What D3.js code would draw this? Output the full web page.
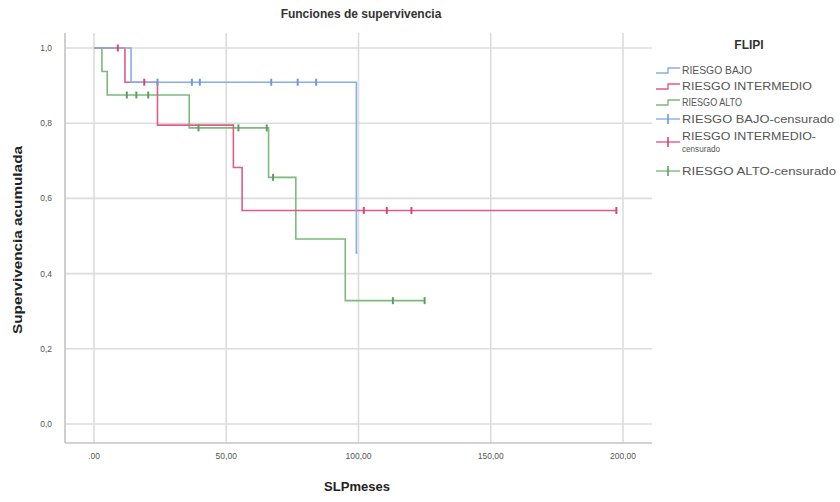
<!DOCTYPE html>
<html><head><meta charset="utf-8">
<script src="https://cdn.jsdelivr.net/npm/d3@7"></script>
<style>body{margin:0;background:#fff}svg{display:block}text{font-family:"Liberation Sans",Arial,sans-serif}</style>
</head><body>
<svg id="c" width="840" height="502"></svg>
<script>
// ---- data ----
const groups = ["RIESGO BAJO", "RIESGO INTERMEDIO", "RIESGO ALTO"];
const legendLabels = ["RIESGO BAJO", "RIESGO INTERMEDIO", "RIESGO ALTO", "RIESGO BAJO-censurado", ["RIESGO INTERMEDIO-", "censurado"], "RIESGO ALTO-censurado"];
const xTicks = [0, 50, 100, 150, 200];
const xTickLabels = [".00", "50,00", "100,00", "150,00", "200,00"];
const yTicks = [0, 0.2, 0.4, 0.6, 0.8, 1.0];
const yTickLabels = ["0,0", "0,2", "0,4", "0,6", "0,8", "1,0"];

const bajoTimes = [0, 14, 99.2];
const bajoSurv  = [1, 0.909, 0.455];
const bajoEnd   = 99.6;
const bajoCensT = [24, 37, 40, 67, 77, 84];
const bajoCensS = [0.909, 0.909, 0.909, 0.909, 0.909, 0.909];

const interTimes = [0, 11.7, 24, 52.7, 56];
const interSurv  = [1, 0.909, 0.795, 0.682, 0.568];
const interEnd   = 197.5;
const interCensT = [9, 19, 102, 110.7, 120, 197.5];
const interCensS = [1, 0.909, 0.568, 0.568, 0.568, 0.568];

const altoTimes = [0, 3, 5, 36, 66, 76.3, 95];
const altoSurv  = [1, 0.9375, 0.875, 0.7875, 0.656, 0.492, 0.328];
const altoEnd   = 125;
const altoCensT = [12.4, 16, 20.5, 39.5, 54.6, 65.3, 67.7, 113, 125];
const altoCensS = [0.875, 0.875, 0.875, 0.7875, 0.7875, 0.7875, 0.656, 0.328, 0.328];

const lineColors = ["#86aee3", "#e05c86", "#7db97c"];
const censColors = ["#6f98d6", "#d8456f", "#5f9f5e"];

// ---- chart ----
const svg = d3.select("#c");
const L = 65, R = 652, T = 33, B = 443;
const x = d3.scaleLinear().domain([0, 200]).range([94, 623]);
const y = d3.scaleLinear().domain([0, 1]).range([424, 48]);

// grid
const g = svg.append("g");
g.selectAll(".hg").data(yTicks).join("line")
  .attr("x1", L).attr("x2", R).attr("y1", d => y(d)).attr("y2", d => y(d))
  .attr("stroke", "#dcdcdc").attr("stroke-width", 1.6);
g.selectAll(".vg").data(xTicks).join("line")
  .attr("y1", T).attr("y2", B).attr("x1", d => x(d)).attr("x2", d => x(d))
  .attr("stroke", "#dcdcdc").attr("stroke-width", 1.6);
// axes lines
svg.append("line").attr("x1", L).attr("x2", L).attr("y1", T).attr("y2", B).attr("stroke", "#c4c4c4").attr("stroke-width", 1.6);
svg.append("line").attr("x1", L).attr("x2", R).attr("y1", B).attr("y2", B).attr("stroke", "#c4c4c4").attr("stroke-width", 1.6);

// tick labels
svg.selectAll(".yl").data(yTicks).join("text")
  .attr("x", 52).attr("y", d => y(d) + 3).attr("text-anchor", "end")
  .attr("font-size", 8.5).attr("fill", "#555").text((d, i) => yTickLabels[i]);
svg.selectAll(".xl").data(xTicks).join("text")
  .attr("x", d => x(d)).attr("y", 459).attr("text-anchor", "middle")
  .attr("font-size", 8.5).attr("fill", "#555").text((d, i) => xTickLabels[i]);

// titles
svg.append("text").attr("x", 361).attr("y", 18).attr("text-anchor", "middle")
  .attr("font-size", 12).attr("font-weight", "bold").attr("fill", "#333").text("Funciones de supervivencia");
svg.append("text").attr("x", 357).attr("y", 491).attr("text-anchor", "middle")
  .attr("font-size", 13).attr("font-weight", "bold").attr("fill", "#222").text("SLPmeses");
svg.append("text").attr("transform", "translate(22,240) rotate(-90)").attr("text-anchor", "middle")
  .attr("font-size", 12.5).attr("font-weight", "bold").attr("fill", "#222")
  .attr("textLength", 188).attr("lengthAdjust", "spacingAndGlyphs").text("Supervivencia acumulada");

// curves
function stepData(times, surv, end) {
  const pts = times.map((t, i) => [t, surv[i]]);
  pts.push([end, surv[surv.length - 1]]);
  return pts;
}
const line = d3.line().x(d => x(d[0])).y(d => y(d[1])).curve(d3.curveStepAfter);
const series = [
  {steps: stepData(bajoTimes, bajoSurv, bajoEnd), ct: bajoCensT, cs: bajoCensS},
  {steps: stepData(interTimes, interSurv, interEnd), ct: interCensT, cs: interCensS},
  {steps: stepData(altoTimes, altoSurv, altoEnd), ct: altoCensT, cs: altoCensS}
];
[2, 1, 0].forEach(i => {
  const s = series[i];
  svg.append("path").attr("d", line(s.steps)).attr("fill", "none")
    .attr("stroke", lineColors[i]).attr("stroke-width", 1.6);
});
[2, 1, 0].forEach(i => {
  const s = series[i];
  svg.append("g").selectAll("line").data(s.ct).join("line")
    .attr("x1", d => x(d)).attr("x2", d => x(d))
    .attr("y1", (d, j) => y(s.cs[j]) - 3.5).attr("y2", (d, j) => y(s.cs[j]) + 3.5)
    .attr("stroke", censColors[i]).attr("stroke-width", 2);
});

// legend
const lg = svg.append("g");
lg.append("text").attr("x", 749).attr("y", 49).attr("text-anchor", "middle")
  .attr("font-size", 12).attr("font-weight", "bold").attr("fill", "#333").text("FLIPI");
const rowY = [70, 86, 102, 119, 136, 171];
const labelLen = [70, 130, 60, 152, 134, 154];
legendLabels.forEach((lab, i) => {
  const yy = rowY[i];
  const ci = i % 3;
  if (i < 3) {
    lg.append("path").attr("d", `M656,${yy+3} L668,${yy+3} L668,${yy-2} L680,${yy-2}`)
      .attr("fill", "none").attr("stroke", lineColors[ci]).attr("stroke-width", 1.4);
  } else {
    const cy = i === 4 ? yy + 6 : yy;
    lg.append("line").attr("x1", 656).attr("x2", 680).attr("y1", cy).attr("y2", cy)
      .attr("stroke", lineColors[ci]).attr("stroke-width", 1.4);
    lg.append("line").attr("x1", 668).attr("x2", 668).attr("y1", cy - 5).attr("y2", cy + 5)
      .attr("stroke", censColors[ci]).attr("stroke-width", 1.6);
  }
  if (Array.isArray(lab)) {
    lg.append("text").attr("x", 682).attr("y", yy + 4).attr("font-size", 10.5).attr("fill", "#555")
      .attr("textLength", labelLen[i]).attr("lengthAdjust", "spacingAndGlyphs").text(lab[0]);
    lg.append("text").attr("x", 682).attr("y", yy + 16).attr("font-size", 8.5).attr("fill", "#555")
      .attr("textLength", 38).attr("lengthAdjust", "spacingAndGlyphs").text(lab[1]);
  } else {
    lg.append("text").attr("x", 682).attr("y", yy + 4).attr("font-size", 10.5).attr("fill", "#555")
      .attr("textLength", labelLen[i]).attr("lengthAdjust", "spacingAndGlyphs").text(lab);
  }
});
</script>
</body></html>
